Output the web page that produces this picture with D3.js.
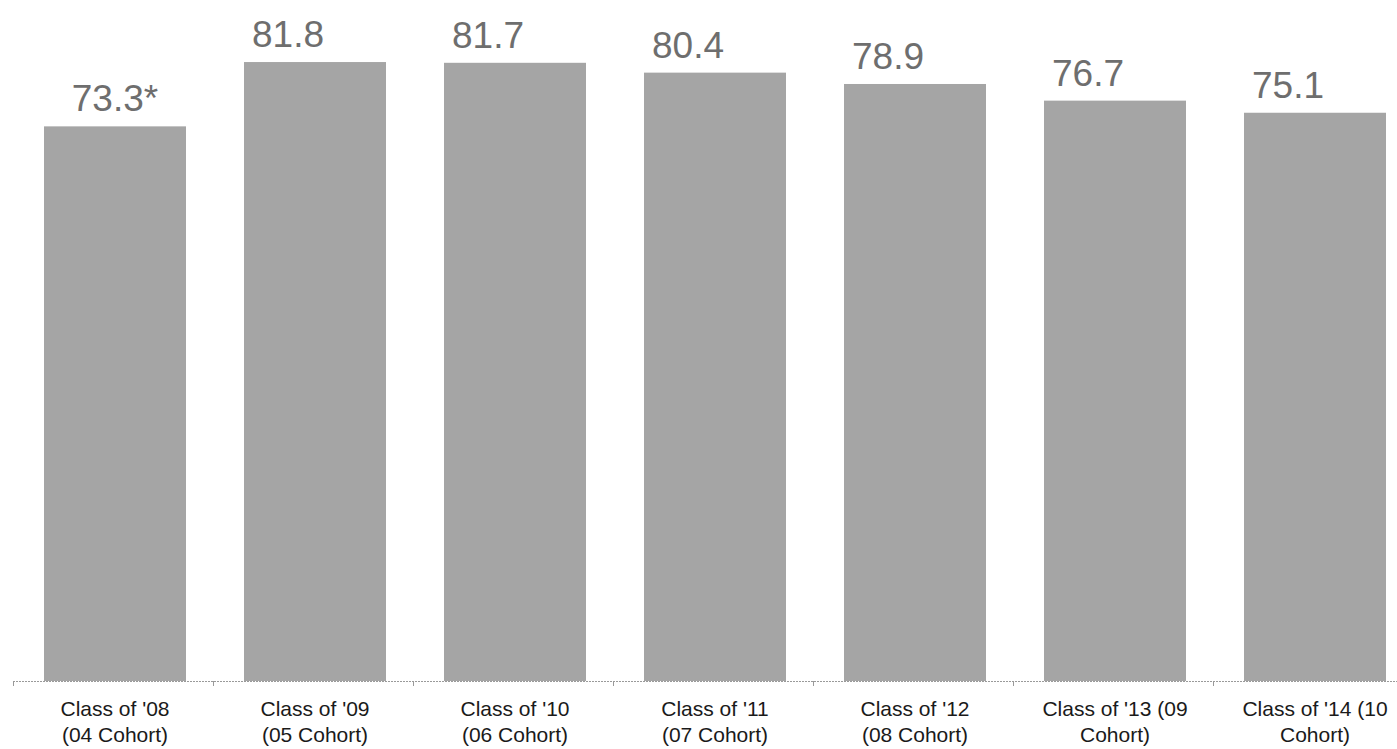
<!DOCTYPE html>
<html>
<head>
<meta charset="utf-8">
<script src="https://cdn.jsdelivr.net/npm/d3@7"></script>
<style>
  html, body { margin: 0; padding: 0; background: #fff; }
  svg { display: block; }
</style>
</head>
<body>
<svg id="chart" width="1397" height="749"></svg>
<script>
// Graduating classes, each label split over two lines
const categories = [
  ["Class of '08", "(04 Cohort)"],
  ["Class of '09", "(05 Cohort)"],
  ["Class of '10", "(06 Cohort)"],
  ["Class of '11", "(07 Cohort)"],
  ["Class of '12", "(08 Cohort)"],
  ["Class of '13 (09", "Cohort)"],
  ["Class of '14 (10", "Cohort)"]
];
// Rate for each class
const values = [73.3, 81.8, 81.7, 80.4, 78.9, 76.7, 75.1];
// Footnote markers appended to the value labels
const notes = ["*", "", "", "", "", "", ""];

const svg = d3.select("#chart");
const baseY = 681;

const x = d3.scaleBand()
  .domain(d3.range(values.length))
  .range([15, 1415])
  .paddingInner(0.29)
  .paddingOuter(0.145);

const y = d3.scaleLinear()
  .domain([0, 90])
  .range([baseY, 0]);

// bars
svg.append("g")
  .selectAll("rect")
  .data(values)
  .join("rect")
  .attr("x", (d, i) => x(i))
  .attr("y", d => y(d))
  .attr("width", x.bandwidth())
  .attr("height", d => baseY - y(d))
  .attr("fill", "#a5a5a5");

// value labels above bars; the footnoted one is centred, the rest sit toward the bar's left edge
svg.append("g")
  .selectAll("text")
  .data(values)
  .join("text")
  .attr("x", (d, i) => notes[i] ? x(i) + x.bandwidth() / 2 : x(i) + 8)
  .attr("y", d => y(d) - 15)
  .attr("text-anchor", (d, i) => notes[i] ? "middle" : "start")
  .attr("font-family", "Liberation Sans, Arial, sans-serif")
  .attr("font-size", 37)
  .attr("fill", "#6e6e6e")
  .text((d, i) => d.toFixed(1) + notes[i]);

// category axis: baseline plus ticks at band boundaries
const axis = svg.append("g");
axis.append("line")
  .attr("x1", 13).attr("x2", 1397)
  .attr("y1", baseY + 0.5).attr("y2", baseY + 0.5)
  .attr("stroke", "#9a9a9a")
  .attr("stroke-width", 1)
  .attr("stroke-dasharray", "2,1");

const step = x.step();
const boundaries = d3.range(values.length + 1).map(i => x(0) - x.paddingOuter() * step + i * step - 2);
axis.selectAll("line.tick")
  .data(boundaries.filter(b => b <= 1397))
  .join("line")
  .attr("class", "tick")
  .attr("x1", d => Math.round(d) + 0.5).attr("x2", d => Math.round(d) + 0.5)
  .attr("y1", baseY).attr("y2", baseY + 5)
  .attr("stroke", "#9a9a9a");

const labels = axis.selectAll("text")
  .data(categories)
  .join("text")
  .attr("x", (d, i) => x(i) + x.bandwidth() / 2)
  .attr("y", 716)
  .attr("text-anchor", "middle")
  .attr("font-family", "Liberation Sans, Arial, sans-serif")
  .attr("font-size", 21)
  .attr("fill", "#1a1a1a");

labels.selectAll("tspan")
  .data(d => d)
  .join("tspan")
  .attr("x", function () { return d3.select(this.parentNode).attr("x"); })
  .attr("dy", (d, i) => i === 0 ? 0 : 26)
  .text(d => d);
</script>
</body>
</html>
